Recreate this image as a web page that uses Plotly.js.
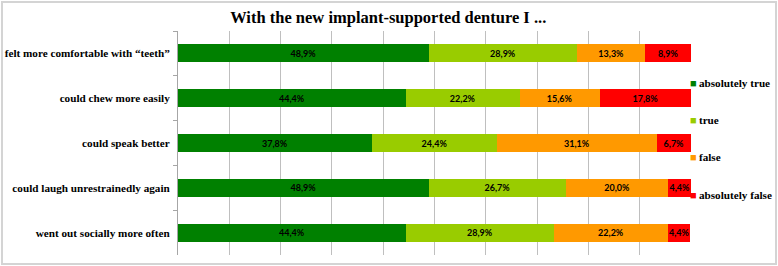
<!DOCTYPE html>
<html>
<head>
<meta charset="utf-8">
<script src="https://cdn.plot.ly/plotly-3.0.1.min.js"></script>
<style>
html,body{margin:0;padding:0;background:#fff;}
#wrap{position:relative;width:778px;height:266px;}
#chart{width:778px;height:266px;}
#frame{position:absolute;left:1px;top:1px;right:1px;bottom:1px;border:2px solid #d4d4d4;pointer-events:none;}
</style>
</head>
<body>
<div id="wrap"><div id="chart"></div><div id="frame"></div></div>
<script>
const categories = [
  'felt more comfortable with \u201cteeth\u201d',
  'could chew more easily',
  'could speak better',
  'could laugh unrestrainedly again',
  'went out socially more often'
];
const seriesNames = ['absolutely true', 'true', 'false', 'absolutely false'];
const absolutelyTrue = [48.9, 44.4, 37.8, 48.9, 44.4];
const trueVals = [28.9, 22.2, 24.4, 26.7, 28.9];
const falseVals = [13.3, 15.6, 31.1, 20.0, 22.2];
const absolutelyFalse = [8.9, 17.8, 6.7, 4.4, 4.4];
const colors = ['#008000', '#99cc00', '#ff9900', '#ff0000'];
const series = [absolutelyTrue, trueVals, falseVals, absolutelyFalse];

const fmt = v => v.toFixed(1).replace('.', ',') + '%';
const serif = '"Liberation Serif", "Times New Roman", serif';

const traces = series.map((vals, i) => ({
  type: 'bar',
  orientation: 'h',
  name: seriesNames[i],
  x: vals,
  y: categories,
  text: vals.map(fmt),
  textposition: 'inside',
  insidetextanchor: 'middle',
  textangle: 0,
  constraintext: 'none',
  textfont: {family: 'Lato, "Liberation Sans", sans-serif', size: 9, color: '#000', weight: 'bold'},
  marker: {color: colors[i], line: {width: 0}},
  width: 0.4,
  showlegend: false,
  hoverinfo: 'none'
}));

// legend drawn as annotations (square swatch + name), built from the series arrays
const legendAnn = seriesNames.map((name, i) => ({
  xref: 'paper', yref: 'paper',
  x: 0.994, y: 0.768 - i * 0.166,
  xanchor: 'left', yanchor: 'middle', showarrow: false,
  text: '<span style="color:' + colors[i] + ';font-size:11px">\u25A0</span>\u2009<b>' + name + '</b>',
  font: {family: serif, size: 11.2, color: '#000'}
}));

const layout = {
  width: 778, height: 266,
  margin: {l: 178, r: 87, t: 31, b: 11, autoexpand: false},
  paper_bgcolor: '#fff', plot_bgcolor: '#fff',
  barmode: 'stack',
  showlegend: false,
  title: {
    text: '<b>With the new implant-supported denture I ...</b>',
    font: {family: serif, size: 16.5, color: '#000'},
    x: 0.499, xanchor: 'center', y: 0.935, yanchor: 'middle'
  },
  xaxis: {
    range: [0, 100], dtick: 10, showticklabels: false,
    showgrid: true, gridcolor: '#bfbfbf', gridwidth: 1,
    zeroline: false, showline: false, fixedrange: true
  },
  yaxis: {
    type: 'category', autorange: 'reversed',
    tickson: 'boundaries', ticks: 'outside', ticklen: 4, tickcolor: '#a6a6a6',
    showline: true, linecolor: '#a6a6a6', linewidth: 1,
    showgrid: false, zeroline: false,
    ticklabelstandoff: 5,
    tickfont: {family: serif, size: 11.2, color: '#000', weight: 'bold'},
    fixedrange: true
  },
  annotations: legendAnn
};

Plotly.newPlot('chart', traces, layout, {displayModeBar: false, staticPlot: true});
</script>
</body>
</html>
